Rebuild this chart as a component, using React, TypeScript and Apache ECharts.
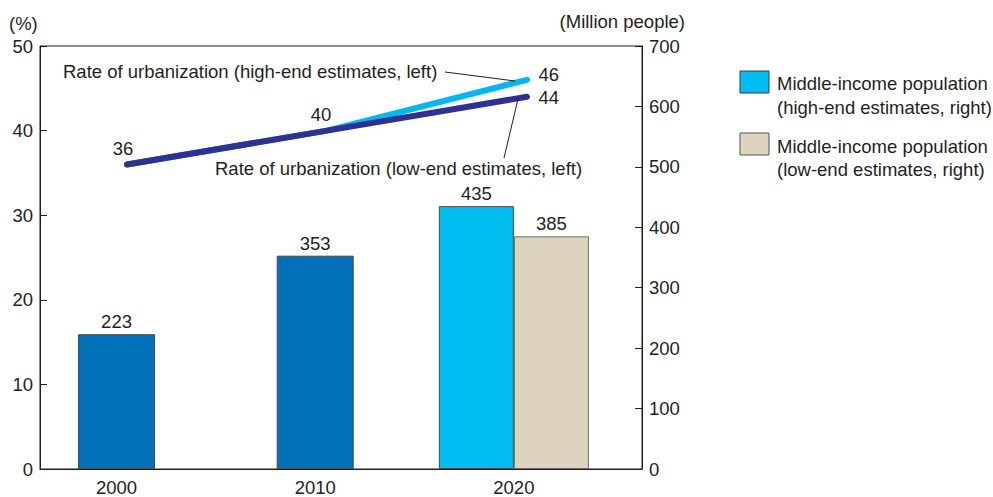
import React, { useEffect, useRef } from 'react';
import * as echarts from 'echarts';

const years = ['2000', '2010', '2020'];
const yearIndex = [0, 1, 2];
const middleIncomePast = [223, 353]; // 2000, 2010 (million people)
const middleIncomeHigh2020 = [435];
const middleIncomeLow2020 = [385];
const urbanHigh = [36, 40, 46]; // %
const urbanLow = [36, 40, 44]; // %
const leftTitle = '(%)';
const rightTitle = '(Million people)';
const legendNames = [
  ['Middle-income population', '(high-end estimates, right)'],
  ['Middle-income population', '(low-end estimates, right)'],
];
const annotHigh = 'Rate of urbanization (high-end estimates, left)';
const annotLow = 'Rate of urbanization (low-end estimates, left)';

const FONT = '"Liberation Sans", Arial, Helvetica, sans-serif';
const FS = 18.5;
const TXT = '#231f20';
const C_DARKBAR = '#0071b9';
const C_CYAN = '#00bdf2';
const C_BEIGE = '#dcd4bf';
const C_NAVY = '#2e3192';
const C_CYANLINE = '#00b7ee';
const CLEAR = 'rgba(0,0,0,0)';

export default function App() {
  const ref = useRef<HTMLDivElement>(null);
  useEffect(() => {
    if (!ref.current) return;
    const chart = echarts.init(ref.current, undefined, { renderer: 'svg' });
    const ts = { fontFamily: FONT, fontSize: FS, color: TXT };
    const font = `${FS}px ${FONT}`;

    const lowLabels = [
      { position: 'top', distance: 6, offset: [-4, 0] },
      { position: 'top', distance: 6, offset: [-6, 0] },
      { position: 'right', distance: 11, offset: [0, 1] },
    ];

    const option: any = {
      animation: false,
      textStyle: { fontFamily: FONT },
      grid: {
        left: 40,
        right: 351,
        top: 46,
        bottom: 21,
        show: true,
        borderColor: TXT,
        borderWidth: 1,
        containLabel: false,
      },
      xAxis: [
        {
          type: 'value',
          min: -0.3854,
          max: 2.645,
          position: 'bottom',
          axisLine: { show: true, onZero: false, lineStyle: { color: TXT, width: 1 } },
          axisTick: { show: false },
          splitLine: { show: false },
          axisLabel: {
            ...ts,
            margin: 9,
            customValues: yearIndex,
            formatter: (v: number) => years[Math.round(v)],
          },
        },
        { type: 'value', min: -0.3854, max: 2.645, show: false, splitLine: { show: false } },
        { type: 'value', min: -0.435, max: 2.575, show: false, splitLine: { show: false } },
      ],
      yAxis: [
        {
          type: 'value',
          min: 0,
          max: 50,
          interval: 10,
          position: 'left',
          axisLine: { show: true, onZero: false, lineStyle: { color: TXT } },
          axisTick: { show: true, inside: true, length: 7, lineStyle: { color: TXT } },
          splitLine: { show: false },
          axisLabel: { ...ts, margin: 7 },
        },
        {
          type: 'value',
          min: 0,
          max: 700,
          interval: 100,
          position: 'right',
          axisLine: { show: true, onZero: false, lineStyle: { color: TXT } },
          axisTick: { show: true, inside: true, length: 7, lineStyle: { color: TXT } },
          splitLine: { show: false },
          axisLabel: { ...ts, margin: 7 },
        },
      ],
      series: [
        {
          type: 'bar',
          name: 'Middle-income population',
          xAxisIndex: 0,
          yAxisIndex: 1,
          barWidth: 77,
          data: middleIncomePast.map((v, i) => [yearIndex[i], v]),
          itemStyle: { color: C_DARKBAR, borderColor: '#4a4a4a', borderWidth: 1 },
          label: { show: true, position: 'top', distance: 3, ...ts },
        },
        {
          type: 'bar',
          name: legendNames[0].join(' '),
          xAxisIndex: 1,
          yAxisIndex: 1,
          barWidth: 75,
          barGap: '0%',
          data: middleIncomeHigh2020.map((v) => [yearIndex[2], v]),
          itemStyle: { color: C_CYAN, borderColor: '#4a4a4a', borderWidth: 1 },
          label: { show: true, position: 'top', distance: 3, ...ts },
        },
        {
          type: 'bar',
          name: legendNames[1].join(' '),
          xAxisIndex: 1,
          yAxisIndex: 1,
          barWidth: 75,
          barGap: '0%',
          data: middleIncomeLow2020.map((v) => [yearIndex[2], v]),
          itemStyle: { color: C_BEIGE, borderColor: '#6a6a6a', borderWidth: 1 },
          label: { show: true, position: 'top', distance: 3, ...ts },
        },
        {
          type: 'line',
          name: annotHigh,
          xAxisIndex: 2,
          yAxisIndex: 0,
          symbol: 'circle',
          symbolSize: 1,
          showSymbol: true,
          itemStyle: { color: CLEAR },
          lineStyle: { color: C_CYANLINE, width: 6, cap: 'round' },
          z: 3,
          data: urbanHigh.map((v, i) => ({
            value: [yearIndex[i], v],
            label:
              i === urbanHigh.length - 1
                ? { show: true, position: 'right', distance: 11, offset: [0, -5], ...ts }
                : { show: false },
          })),
        },
        {
          type: 'line',
          name: annotLow,
          xAxisIndex: 2,
          yAxisIndex: 0,
          symbol: 'circle',
          symbolSize: 1,
          showSymbol: true,
          itemStyle: { color: CLEAR },
          lineStyle: { color: C_NAVY, width: 6, cap: 'round' },
          z: 4,
          data: urbanLow.map((v, i) => ({
            value: [yearIndex[i], v],
            label: { show: true, ...ts, ...lowLabels[i] },
          })),
        },
      ],
      graphic: [
        { type: 'text', left: 9, top: 14, style: { text: leftTitle, font, fill: TXT } },
        { type: 'text', right: 993 - 685, top: 12, style: { text: rightTitle, font, fill: TXT } },
        {
          type: 'text',
          x: 63,
          y: 71,
          style: { text: annotHigh, font, fill: TXT, verticalAlign: 'middle' },
          z: 10,
        },
        { type: 'line', shape: { x1: 445, y1: 72, x2: 515, y2: 81 }, style: { stroke: TXT, lineWidth: 1 }, z: 10 },
        {
          type: 'text',
          x: 215,
          y: 168,
          style: { text: annotLow, font, fill: TXT, verticalAlign: 'middle' },
          z: 10,
        },
        { type: 'line', shape: { x1: 504, y1: 158, x2: 518, y2: 99 }, style: { stroke: TXT, lineWidth: 1 }, z: 10 },
        { type: 'rect', shape: { x: 740, y: 71, width: 29, height: 22 }, style: { fill: C_CYAN, stroke: '#3a3a3a', lineWidth: 1 } },
        { type: 'text', x: 777, y: 83, style: { text: legendNames[0][0], font, fill: TXT, verticalAlign: 'middle' } },
        { type: 'text', x: 777, y: 107, style: { text: legendNames[0][1], font, fill: TXT, verticalAlign: 'middle' } },
        { type: 'rect', shape: { x: 740, y: 133, width: 29, height: 22 }, style: { fill: C_BEIGE, stroke: '#555', lineWidth: 1 } },
        { type: 'text', x: 777, y: 146, style: { text: legendNames[1][0], font, fill: TXT, verticalAlign: 'middle' } },
        { type: 'text', x: 777, y: 169, style: { text: legendNames[1][1], font, fill: TXT, verticalAlign: 'middle' } },
      ],
    };
    chart.setOption(option);
    return () => chart.dispose();
  }, []);
  return (
    <div
      ref={ref}
      style={{ position: 'fixed', left: 0, top: 0, width: 993, height: 497, background: '#fff' }}
    />
  );
}
